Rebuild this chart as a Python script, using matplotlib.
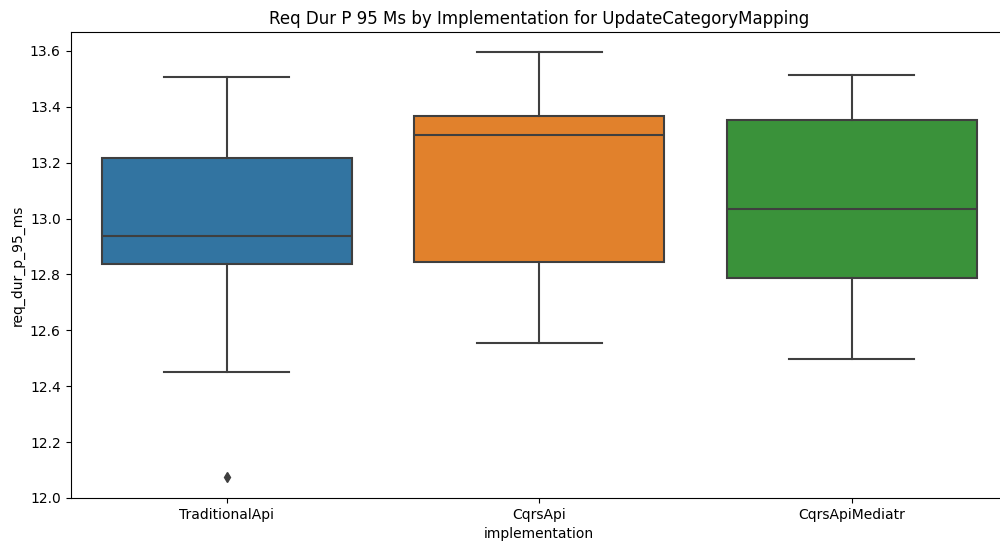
import matplotlib
matplotlib.use("Agg")
import matplotlib.pyplot as plt

# Per-implementation box statistics for req_dur_p_95_ms
implementations = ["TraditionalApi", "CqrsApi", "CqrsApiMediatr"]
whislo = [12.451, 12.555, 12.497]
q1 = [12.838, 12.845, 12.787]
medians = [12.938, 13.299, 13.034]
q3 = [13.217, 13.367, 13.353]
whishi = [13.507, 13.596, 13.514]
fliers = [[12.075], [], []]

box_colors = ["#3274a1", "#e1812c", "#3a923a"]
line_gray = "#3f3f3f"

stats = []
for i, name in enumerate(implementations):
    stats.append({
        "label": name,
        "whislo": whislo[i], "q1": q1[i], "med": medians[i],
        "q3": q3[i], "whishi": whishi[i], "fliers": fliers[i],
    })

fig, ax = plt.subplots(figsize=(10, 5.49), dpi=100)
# the axes runs a little past the right edge of the saved image
fig.subplots_adjust(left=0.0705, right=1.008, top=0.942, bottom=0.093)

positions = list(range(len(implementations)))
bp = ax.bxp(
    stats, positions=positions, widths=0.8, patch_artist=True,
    boxprops=dict(edgecolor=line_gray, linewidth=1.5),
    medianprops=dict(color=line_gray, linewidth=1.5),
    whiskerprops=dict(color=line_gray, linewidth=1.5),
    capprops=dict(color=line_gray, linewidth=1.5),
    flierprops=dict(marker="d", markerfacecolor=line_gray, markeredgecolor=line_gray,
                    markersize=5),
    capwidths=0.4,
)
for patch, c in zip(bp["boxes"], box_colors):
    patch.set_facecolor(c)

ax.set_xlim(-0.5, len(implementations) - 0.5)
ax.set_ylim(12.0, 13.668)
ax.set_xticks(positions)
ax.set_xticklabels(implementations)
ax.set_yticks([12.0, 12.2, 12.4, 12.6, 12.8, 13.0, 13.2, 13.4, 13.6])
ax.set_xlabel("implementation")
ax.set_ylabel("req_dur_p_95_ms")
ax.set_title("Req Dur P 95 Ms by Implementation for UpdateCategoryMapping")

fig.savefig("out.png", dpi=100)
